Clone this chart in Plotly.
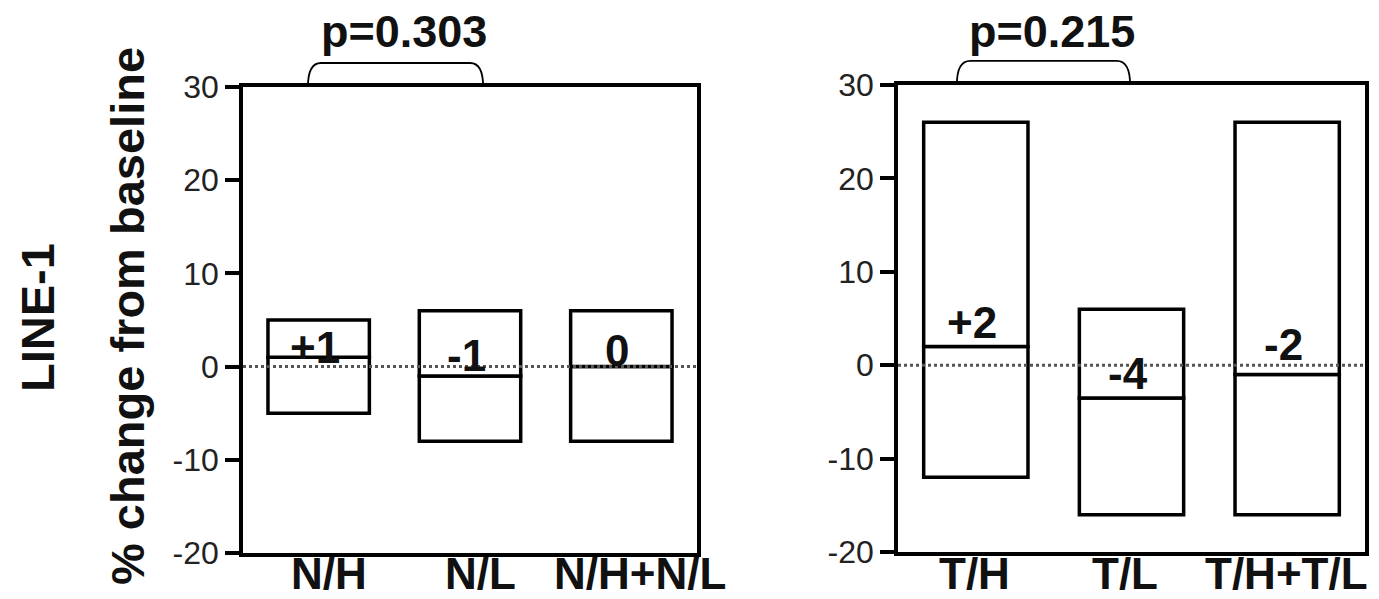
import plotly.graph_objects as go

# ---- data ----
left_groups = ["N/H", "N/L", "N/H+N/L"]
left_q1 = [-5, -8, -8]
left_median = [1, -1, 0]
left_q3 = [5, 6, 6]
left_labels = ["+1", "-1", "0"]
left_p = "p=0.303"

right_groups = ["T/H", "T/L", "T/H+T/L"]
right_q1 = [-12, -16, -16]
right_median = [2, -3.5, -1]
right_q3 = [26, 6, 26]
right_labels = ["+2", "-4", "-2"]
right_p = "p=0.215"

y_ticks = [-20, -10, 0, 10, 20, 30]
y_ticktext = ["-20", "-10", "0", "10", "20", "30"]
y_title = "% change from baseline"
row_title = "LINE-1"

# ---- style ----
FONT = "Liberation Sans"
W, H = 1379, 599
LW = 3.5
label_dy_left = [10, 20, 16]       # px above median
label_dy_right = [24, 24, 30]
xlab_shift_left = [10, 10, 19]
xlab_shift_right = [-1, -7, -1]

fig = go.Figure()

def add_panel(xa, ya, q1, med, q3):
    idx = list(range(len(q1)))
    fig.add_trace(go.Bar(x=idx, base=q1, y=[m - a for m, a in zip(med, q1)],
                         width=0.67, marker=dict(color="white", line=dict(color="black", width=LW)),
                         xaxis=xa, yaxis=ya, hoverinfo="skip", showlegend=False))
    fig.add_trace(go.Bar(x=idx, base=med, y=[b - m for m, b in zip(med, q3)],
                         width=0.67, marker=dict(color="white", line=dict(color="black", width=LW)),
                         xaxis=xa, yaxis=ya, hoverinfo="skip", showlegend=False))

add_panel("x", "y", left_q1, left_median, left_q3)
add_panel("x2", "y2", right_q1, right_median, right_q3)

axis_common = dict(showline=True, linewidth=LW, linecolor="black", mirror=True,
                   showgrid=False, zeroline=False, automargin=False)
yax = dict(range=[-20, 30], tickvals=y_ticks, ticktext=y_ticktext, ticks="outside",
           ticklen=14, tickwidth=LW, tickcolor="black",
           tickfont=dict(family=FONT, size=32, color="#222"), **axis_common)
xax = dict(range=[-0.5, 2.5], showticklabels=False, ticks="", **axis_common)

fig.update_layout(
    width=W, height=H, margin=dict(l=0, r=0, t=0, b=0, autoexpand=False),
    paper_bgcolor="white", plot_bgcolor="white", barmode="overlay",
    xaxis=dict(domain=[243 / W, 697 / W], **xax),
    yaxis=dict(domain=[46 / H, 512 / H], **yax),
    xaxis2=dict(domain=[898 / W, 1365 / W], anchor="y2", **xax),
    yaxis2=dict(domain=[47 / H, 514 / H], anchor="x2", **yax),
)

shapes = []
annotations = []

for xa, ya, bx0, bx1 in [("x", "y", 0.143, 0.529), ("x2", "y2", 0.126, 0.497)]:
    # dotted zero line
    shapes.append(dict(type="line", xref=f"{xa} domain", yref=ya, x0=0, x1=1, y0=0, y1=0,
                       line=dict(color="#555", width=3, dash="dot"), layer="above"))
    # bracket
    top = 1.0515
    r = 0.0286
    path = (f"M {bx0},1 Q {bx0},{top} {bx0 + r},{top} L {bx1 - r},{top} "
            f"Q {bx1},{top} {bx1},1")
    shapes.append(dict(type="path", xref=f"{xa} domain", yref=f"{ya} domain", path=path,
                       line=dict(color="black", width=1.8)))

# p-values
annotations.append(dict(text=f"<b>{left_p}</b>", xref="x domain", yref="paper",
                        x=0.3546, y=(H - 31) / H, showarrow=False, xanchor="center",
                        yanchor="middle", font=dict(family=FONT, size=45, color="#111")))
annotations.append(dict(text=f"<b>{right_p}</b>", xref="x2 domain", yref="paper",
                        x=0.3298, y=(H - 31) / H, showarrow=False, xanchor="center",
                        yanchor="middle", font=dict(family=FONT, size=45, color="#111")))

# box labels
for xa, ya, meds, labs, dys in [("x", "y", left_median, left_labels, label_dy_left),
                                ("x2", "y2", right_median, right_labels, label_dy_right)]:
    for i, (m, t, dy) in enumerate(zip(meds, labs, dys)):
        annotations.append(dict(text=f"<b>{t}</b>", xref=xa, yref=ya, x=i, y=m, yshift=dy,
                                xshift=-4, showarrow=False, xanchor="center", yanchor="middle",
                                font=dict(family=FONT, size=44, color="#111")))

# category labels
for xa, groups, shifts in [("x", left_groups, xlab_shift_left), ("x2", right_groups, xlab_shift_right)]:
    for i, (g, s) in enumerate(zip(groups, shifts)):
        annotations.append(dict(text=f"<b>{g}</b>", xref=xa, yref="paper", x=i,
                                y=(H - 573) / H, xshift=s, showarrow=False,
                                xanchor="center", yanchor="middle",
                                font=dict(family=FONT, size=44, color="#111")))

# axis titles
annotations.append(dict(text=f"<b>{y_title}</b>", xref="paper", yref="paper",
                        x=127 / W, y=(H - 316) / H, textangle=-90, showarrow=False,
                        xanchor="center", yanchor="middle",
                        font=dict(family=FONT, size=47, color="#111")))
annotations.append(dict(text=f"<b>{row_title}</b>", xref="paper", yref="paper",
                        x=37 / W, y=(H - 318) / H, textangle=-90, showarrow=False,
                        xanchor="center", yanchor="middle",
                        font=dict(family=FONT, size=47, color="#111")))

fig.update_layout(shapes=shapes, annotations=annotations)
fig.write_html("out.html", config={"displayModeBar": False},
               post_script="document.body.style.margin='0';")
